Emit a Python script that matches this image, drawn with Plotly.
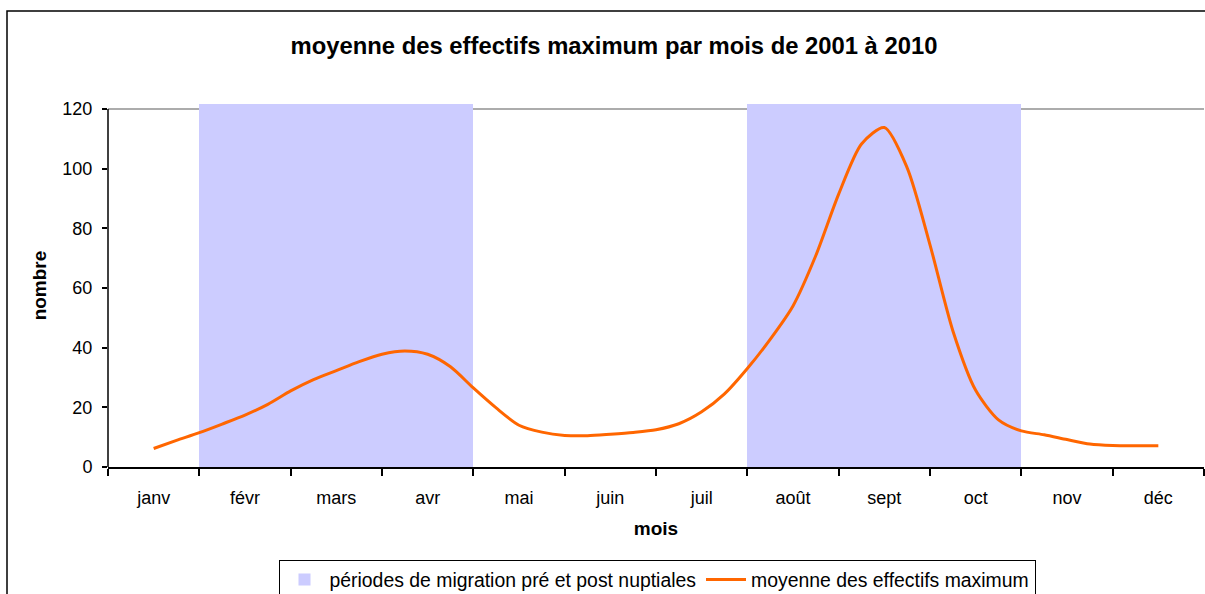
import plotly.graph_objects as go

mois = ["janv", "févr", "mars", "avr", "mai", "juin", "juil", "août", "sept", "oct", "nov", "déc"]

# migration periods (bars)
migration_mois = ["févr", "mars", "avr", "août", "sept", "oct"]
migration_valeurs = [122, 122, 122, 122, 122, 122]

# mean of max counts, sampled every quarter month (position in month units, janv = 0)
moyenne_x = [0, 0.25, 0.5, 0.75, 1, 1.25, 1.5, 1.75, 2, 2.25, 2.5, 2.75,
             3, 3.25, 3.5, 3.75, 4, 4.25, 4.5, 4.75, 5, 5.25, 5.5, 5.75,
             6, 6.25, 6.5, 6.75, 7, 7.25, 7.5, 7.75, 8, 8.25, 8.5, 8.75,
             9, 9.25, 9.5, 9.75, 10, 10.25, 10.5, 10.75, 11]
moyenne_y = [6.2, 8.9, 11.5, 14.4, 17.4, 21.0, 25.5, 29.3, 32.3, 35.3, 37.8, 38.9,
             37.8, 33.6, 26.5, 19.8, 14.0, 11.7, 10.6, 10.5, 11.0, 11.6, 12.5, 14.5,
             18.5, 24.5, 33.0, 42.8, 54.0, 70.9, 91.5, 108.3, 113.8, 100.3, 74.5, 45.7,
             25.7, 15.8, 12.1, 10.8, 9.2, 7.7, 7.2, 7.1, 7.1]

y_ticks = [0, 20, 40, 60, 80, 100, 120]
y_max = 120

FONT = "Liberation Sans, Arial, sans-serif"
W, H = 1205, 594
L, R, T, B = 108, 1, 104, 127
Y_TOP = 121.7  # plot area extends slightly above the last tick
PH = H - T - B
PW = W - L - R

fig = go.Figure()
fig.add_trace(go.Bar(
    x=[mois.index(m) for m in migration_mois], y=migration_valeurs, width=1,
    marker=dict(color="#CCCCFF", line=dict(width=0)),
    name="périodes de migration pré et post nuptiales",
))
fig.add_trace(go.Scatter(
    x=moyenne_x, y=moyenne_y, mode="lines",
    line=dict(color="#FF6600", width=3, shape="spline", smoothing=0.75),
    name="moyenne des effectifs maximum",
))

bounds = [i - 0.5 for i in range(len(mois) + 1)]

fig.update_layout(
    width=W, height=H,
    margin=dict(l=L, r=R, t=T, b=B, pad=0, autoexpand=False),
    paper_bgcolor="white", plot_bgcolor="white",
    font=dict(family=FONT, size=18, color="black"),
    title=dict(text="<b>moyenne des effectifs maximum par mois de 2001 à 2010</b>",
               x=614 / W, xanchor="center", xref="container",
               y=1 - 45.5 / H, yanchor="middle", yref="container",
               font=dict(size=23.8, family=FONT, color="black")),
    showlegend=True,
    legend=dict(orientation="h", x=(657 - L) / PW, xanchor="center",
                y=-(559.5 - (H - B)) / PH, yanchor="top",
                bordercolor="black", borderwidth=1, bgcolor="white",
                font=dict(size=19.4, family=FONT), traceorder="normal",
                itemwidth=40, tracegroupgap=0),
    bargap=0,
    xaxis=dict(range=[-0.5, 11.5], tickmode="array", tickvals=list(range(len(mois))),
               ticktext=mois, ticks="", showgrid=False, zeroline=False,
               showline=True, linecolor="black", linewidth=1.5,
               ticklabelstandoff=14,
               minor=dict(tickmode="array", tickvals=bounds, ticks="outside",
                          ticklen=7, tickwidth=1.5, tickcolor="black", showgrid=False),
               title=dict(text="<b>mois</b>", font=dict(size=19, family=FONT), standoff=14)),
    yaxis=dict(range=[0, Y_TOP], tickmode="array", tickvals=y_ticks, ticks="outside",
               ticklen=5, tickwidth=1.5, tickcolor="black", showgrid=False, zeroline=False,
               showline=False, ticklabelstandoff=6,
               title=dict(text="<b>nombre</b>", font=dict(size=19, family=FONT), standoff=10)),
    xaxis2=dict(range=[-0.5, 11.5], overlaying="x", anchor="y", side="bottom",
                tickmode="array", tickvals=bounds, ticks="inside", ticklen=5,
                tickwidth=1.5, tickcolor="black", showticklabels=False,
                showgrid=False, zeroline=False, showline=False),
    yaxis2=dict(range=[0, Y_TOP], overlaying="y", anchor="x", side="left",
                tickmode="array", tickvals=y_ticks, ticks="inside", ticklen=5,
                tickwidth=1.5, tickcolor="black", showticklabels=False,
                showgrid=False, zeroline=False, showline=False),
    shapes=[
        # plot-area top border at the last tick
        dict(type="line", xref="paper", yref="y", x0=0, x1=1, y0=y_max, y1=y_max,
             line=dict(color="#909090", width=1.5), layer="below"),
        # value axis line (stops at the last tick)
        dict(type="line", xref="paper", yref="y", x0=0, x1=0, y0=0, y1=y_max,
             line=dict(color="black", width=1.5), layer="above"),
        # chart-area border
        dict(type="rect", xref="paper", yref="paper",
             x0=-(L - 7) / PW, x1=1.05,
             y0=-(H + 20 - (H - B)) / PH, y1=1 + (T - 11) / PH,
             line=dict(color="black", width=1.5), fillcolor="rgba(0,0,0,0)", layer="above"),
    ],
)

fig.write_html("out.html", config={"displayModeBar": False},
               post_script="document.body.style.margin='0';document.body.style.overflow='hidden';")
